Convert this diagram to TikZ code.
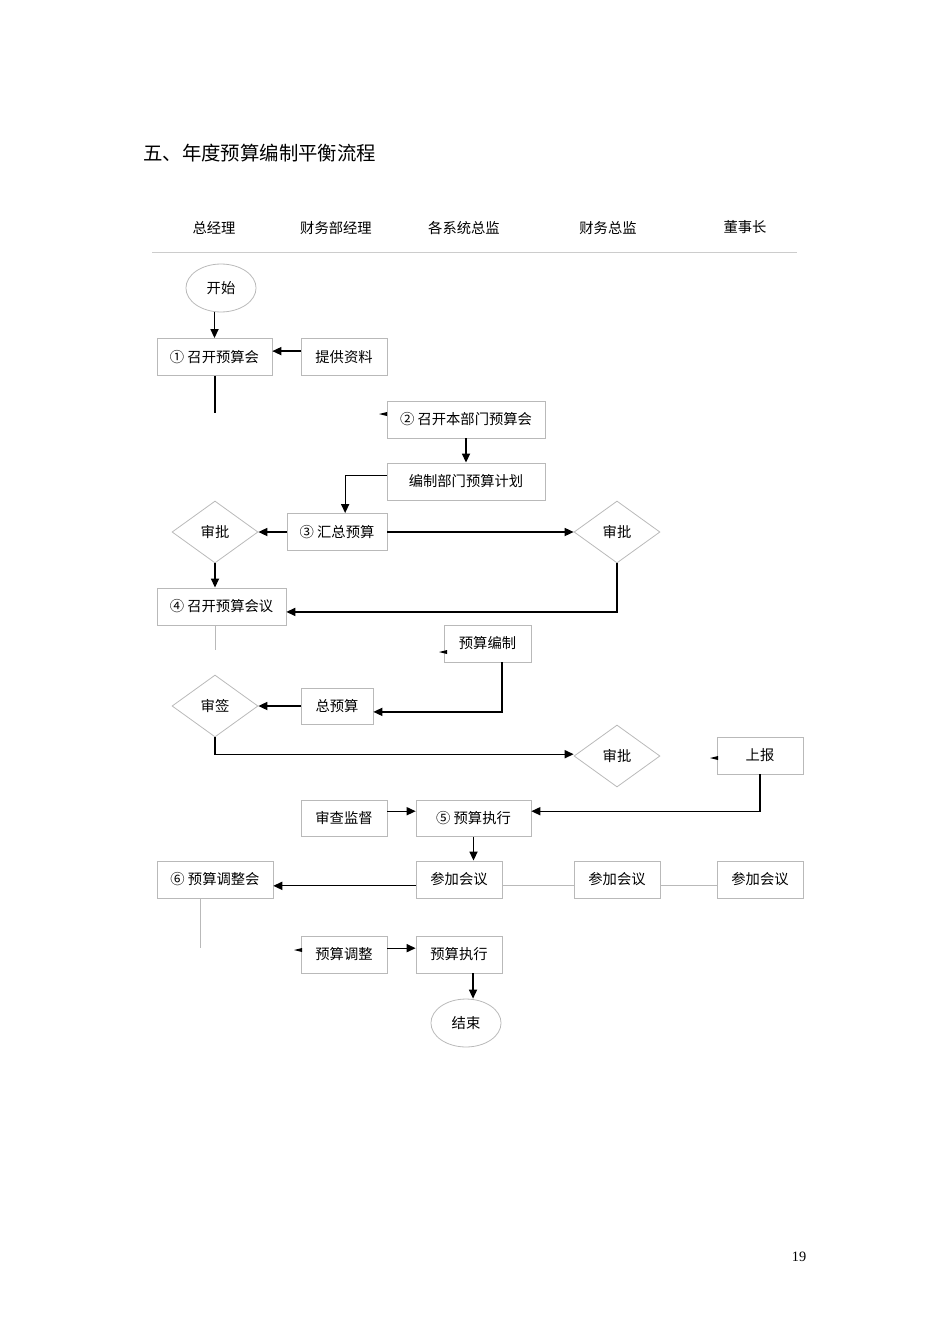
\documentclass[tikz,border=0pt]{standalone}
\usepackage{fontspec}
\setmainfont{Noto Sans CJK SC}
\newfontfamily\numfont{Liberation Serif}
\usetikzlibrary{shapes.geometric, arrows.meta, calc}

\begin{document}
\begin{tikzpicture}[
    x=0.22105mm, y=-0.22105mm,
    font=\fontsize{9}{11}\selectfont,
    nd/.style={draw=gray!55, line width=0.5pt, align=center, inner sep=2pt},
    bx/.style={nd, minimum width=#1, minimum height=8.2mm},
    bx/.default=19mm,
    dm/.style={nd, diamond, minimum width=19mm, minimum height=13.7mm, inner sep=0pt},
    el/.style={nd, ellipse, minimum width=15.5mm, minimum height=10.6mm, inner sep=0pt},
    ar/.style={-{Triangle[length=2mm, width=1.8mm]}, line width=0.8pt},
    ln/.style={line width=0.8pt},
    gl/.style={draw=gray!55, line width=0.5pt},
    hd/.style={anchor=center}
]
\useasboundingbox (0,0) rectangle (950,1344);

\node[anchor=west, inner sep=0pt, font=\fontsize{12.2}{15}\selectfont] (title) at (143,153) {五、年度预算编制平衡流程};

% lanes
\node[hd] (h1) at (214,228) {总经理};
\node[hd] (h2) at (336,228) {财务部经理};
\node[hd] (h3) at (464,228) {各系统总监};
\node[hd] (h4) at (608,228) {财务总监};
\node[hd] (h5) at (745,227) {董事长};
\coordinate (hl) at (152,252);
\coordinate (hr) at (797,252);
\draw[gl, draw=gray!40] (hl) -- (hr);

% nodes
\node[el] (start) at (221,288) {开始};
\node[bx=25.4mm] (m1) at (214.5,357) {① 召开预算会};
\node[bx] (tg) at (344,357) {提供资料};
\node[bx=34.9mm] (m2) at (466,419.5) {② 召开本部门预算会};
\node[bx=34.9mm] (bz) at (466,481.5) {编制部门预算计划};
\node[bx=22.1mm] (m3) at (337,532) {③ 汇总预算};
\node[dm] (d1) at (215,532) {审批};
\node[dm] (d2) at (617,532) {审批};
\node[bx=28.5mm] (m4) at (221.5,606.5) {④ 召开预算会议};
\node[bx=19.2mm] (bj) at (487.5,643.5) {预算编制};
\node[bx=15.9mm, minimum height=8mm] (zys) at (337,706) {总预算};
\node[dm] (dq) at (215,706) {审签};
\node[dm] (d3) at (617,756) {审批};
\node[bx] (sb) at (760,755.5) {上报};
\node[bx=25.4mm, minimum height=8mm] (m5) at (473.5,818) {⑤ 预算执行};
\node[bx, minimum height=8mm] (sc) at (344,818) {审查监督};
\node[bx] (jh1) at (459,879.5) {参加会议};
\node[bx] (jh2) at (617,879.5) {参加会议};
\node[bx] (jh3) at (760,879.5) {参加会议};
\node[bx=25.6mm] (m6) at (215,879.5) {⑥ 预算调整会};
\node[bx] (tz) at (344,954.5) {预算调整};
\node[bx] (zx) at (459,954.5) {预算执行};
\node[el] (end) at (466,1023) {结束};

\node[font=\numfont\fontsize{9}{11}\selectfont] (pg) at (799,1257) {19};

% loose ends
\coordinate (m1e) at (215,413);
\coordinate (m4e) at (215,650);
\coordinate (m6e) at (200,948);
\coordinate (f2) at (379,414);
\coordinate (fbj) at (439,652);
\coordinate (fsb) at (710,758);
\coordinate (ftz) at (294,950);
\foreach \f in {f2, fbj, fsb, ftz}
    \fill (\f) -- ++(8,-2) -- ++(0,4) -- cycle;

% connectors
\draw[ar] (start.south -| m1.north) -- (m1.north);
\draw[ar] ([yshift=1.3mm]tg.west) -- ([yshift=1.3mm]tg.west -| m1.east);
\draw[ln] (m1.south -| m1e) -- (m1e);
\draw[ar] (m2.south) -- (bz.north);
\draw[ar] ([yshift=1.4mm]bz.west) -| ([xshift=1.8mm]m3.north);
\draw[ar] (m3.west) -- (d1.east);
\draw[ar] (m3.east) -- (d2.west);
\draw[ar] (d1.south) -- (d1.south |- m4.north);
\draw[ar] (d2.south) |- ([yshift=-1.2mm]m4.east);
\draw[gl] (m4.south -| m4e) -- (m4e);
\draw[ar] ([xshift=3.2mm]bj.south) |- ([yshift=-1.3mm]zys.east);
\draw[ar] (zys.west) -- (dq.east);
\draw[ar] (dq.south) |- ([yshift=0.4mm]d3.west);
\draw[ar] (sb.south) |- ([yshift=1.5mm]m5.east);
\draw[ar] ([yshift=1.5mm]sc.east) -- ([yshift=1.5mm]m5.west);
\draw[ar] (m5.south) -- (m5.south |- jh1.north);
\draw[ar] ([yshift=-1.4mm]jh1.west) -- ([yshift=-1.4mm]jh1.west -| m6.east);
\draw[gl] ([yshift=-1.4mm]jh1.east) -- ([yshift=-1.4mm]jh2.west);
\draw[gl] ([yshift=-1.4mm]jh2.east) -- ([yshift=-1.4mm]jh3.west);
\draw[gl] (m6.south -| m6e) -- (m6e);
\draw[ar] ([yshift=1.4mm]tz.east) -- ([yshift=1.4mm]zx.west);
\draw[ar] ([xshift=3.1mm]zx.south) -- ([xshift=3.1mm]zx.south |- end.north);
\end{tikzpicture}
\end{document}
